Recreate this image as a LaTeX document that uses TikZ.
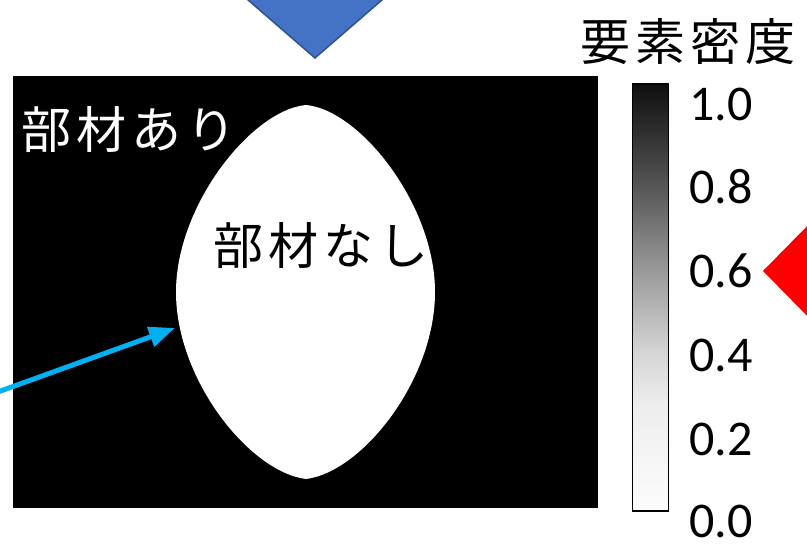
\documentclass[tikz,border=0pt]{standalone}
\usepackage{fontspec}
\usetikzlibrary{arrows.meta}
\setmainfont{Carlito}
\newfontfamily\jp{Noto Sans CJK JP}
\definecolor{triblue}{HTML}{4472C4}
\definecolor{triblueedge}{HTML}{2F528F}
\definecolor{arrowcyan}{HTML}{00B0F0}
\definecolor{trired}{HTML}{FF0000}
\pgfdeclareverticalshading{cbshade}{100bp}{%
  color(0bp)=(black!1); color(25bp)=(black!1); color(37.5bp)=(black!7);
  color(43.75bp)=(black!17); color(50bp)=(black!32); color(56.25bp)=(black!48);
  color(62.5bp)=(black!65); color(68.75bp)=(black!80); color(75bp)=(black!94);
  color(100bp)=(black!94)}
\newcommand{\jk}{\kern5pt}
\begin{document}
\begin{tikzpicture}[x=1pt,y=-1pt,
  jplabel/.style={font=\jp\fontsize{50}{50}\selectfont, inner sep=0pt},
  ticklabel/.style={font=\fontsize{50}{50}\selectfont, inner sep=0pt, anchor=west},
  ]
\useasboundingbox (0,0) rectangle (807,548);
\begin{scope}
\clip (0,0) rectangle (807,548);
% blue triangle
\draw[fill=triblue, draw=triblueedge, line width=1.5pt] (240,-7) -- (390,-7) -- (315,58) -- cycle;
% red triangle
\fill[trired] (763,271) -- (820,213) -- (820,329) -- cycle;
\end{scope}
% black field
\fill[black] (13,76) rectangle (598,508);
% white lens
\fill[white] (306,105) .. controls (360,110) and (435,205) .. (435,292)
  .. controls (435,380) and (362,472) .. (306,479)
  .. controls (250,472) and (176,380) .. (176,292)
  .. controls (176,205) and (252,110) .. (306,105) -- cycle;
\coordinate (lensleft) at (175,328);
\coordinate (arrowtail) at (-5,393);
\node[jplabel, text=white] (ari) at (129,130) {部\jk 材\jk あ\jk り};
\node[jplabel, text=black] (nashi) at (321,246) {部\jk 材\jk な\jk し};
\draw[arrowcyan, line width=5pt, -{Triangle[length=26pt,width=20pt]}] (arrowtail) -- (lensleft);
% colorbar
\node[draw=black, line width=1.2pt, minimum width=36pt, minimum height=427pt, inner sep=0pt,
  shading=cbshade] (cbar) at (650.5,297.5) {};
\node[jplabel] (title) at (688,42) {要\jk 素\jk 密\jk 度};
\node[ticklabel] (t10) at (689,104) {1.0};
\node[ticklabel] (t08) at (689,187) {0.8};
\node[ticklabel] (t06) at (689,271) {0.6};
\node[ticklabel] (t04) at (689,355) {0.4};
\node[ticklabel] (t02) at (689,439) {0.2};
\node[ticklabel] (t00) at (689,521) {0.0};
\end{tikzpicture}
\end{document}
